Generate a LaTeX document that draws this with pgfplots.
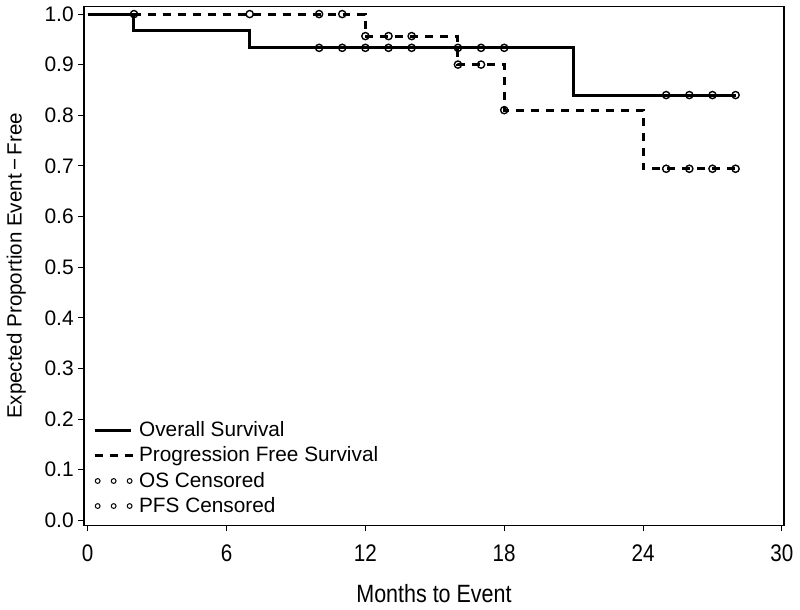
\documentclass[border=0pt]{standalone}
\usepackage{fontspec}
\setmainfont{Liberation Sans}
\newfontfamily\narrow[FakeStretch=0.86]{Liberation Sans}
\usepackage{pgfplots}
\pgfplotsset{compat=1.18}
\begin{document}
\begin{tikzpicture}
\begin{axis}[
  scale only axis, width=350.5pt, height=259.7pt,
  xmin=-0.17, xmax=30.1, ymin=-0.0103, ymax=1.015,
  xtick={0,6,12,18,24,30}, xticklabels={0,6,12,18,24,30},
  ytick={0,0.1,0.2,0.3,0.4,0.5,0.6,0.7,0.8,0.9,1.0},
  yticklabels={0.0,0.1,0.2,0.3,0.4,0.5,0.6,0.7,0.8,0.9,1.0},
  xticklabel style={font=\narrow\fontsize{12}{14}\selectfont, yshift=-3pt},
  yticklabel style={font=\fontsize{10.5}{12}\selectfont, xshift=1.5pt},
  tick align=outside, major tick length=3pt, xtick pos=bottom, ytick pos=left,
  tick style={black, line width=0.5pt},
  axis line style={line width=0.9pt},
  xlabel={Months to Event},
  ylabel={Expected Proportion Event\,−\,Free},
  xlabel style={font=\narrow\fontsize{12.5}{14}\selectfont, yshift=-4.5pt},
  ylabel style={font=\fontsize{10.3}{12}\selectfont, yshift=2.5pt},
  legend cell align=left,
  legend style={draw=none, fill=none, at={(0,0)}, anchor=south west, xshift=2.5pt, yshift=1pt,
    font=\fontsize{10.4}{12}\selectfont, row sep=-0.5pt, inner xsep=2pt, inner ysep=2pt,
    nodes={inner xsep=2.5pt}},
]
\addplot[black, line width=1.5pt, const plot mark left,
  legend image code/.code={\draw[black, line width=1.5pt] (0pt,0pt) -- (18pt,0pt);}]
  coordinates {(0,1) (2,0.9667) (7,0.9333) (21,0.84) (28,0.84)};
\addlegendentry{Overall Survival}
\addplot[black, line width=1.5pt, dash pattern=on 4pt off 3.5pt, const plot mark left,
  legend image code/.code={\draw[black, line width=1.5pt, dash pattern=on 4pt off 3.5pt] (0pt,0pt) -- (19pt,0pt);}]
  coordinates {(0,1) (12,0.9565) (16,0.9002) (18,0.8102) (24,0.6944) (28,0.6944)};
\addlegendentry{Progression Free Survival}
\addplot[only marks, mark=o, mark size=1.8pt, black, mark options={line width=0.7pt},
  legend image code/.code={\draw[black, line width=0.5pt] (1.5pt,0pt) circle (1.2pt) (9.5pt,0pt) circle (1.2pt) (17.5pt,0pt) circle (1.2pt);}]
  coordinates {(10,0.9333) (11,0.9333) (12,0.9333) (13,0.9333) (14,0.9333) (16,0.9333) (17,0.9333) (18,0.9333)
    (25,0.84) (26,0.84) (27,0.84) (28,0.84)};
\addlegendentry{OS Censored}
\addplot[only marks, mark=o, mark size=1.8pt, black, mark options={line width=0.7pt},
  legend image code/.code={\draw[black, line width=0.5pt] (1.5pt,0pt) circle (1.2pt) (9.5pt,0pt) circle (1.2pt) (17.5pt,0pt) circle (1.2pt);}]
  coordinates {(2,1) (7,1) (10,1) (11,1) (12,0.9565) (13,0.9565) (14,0.9565) (16,0.9002) (17,0.9002) (18,0.8102)
    (25,0.6944) (26,0.6944) (27,0.6944) (28,0.6944)};
\addlegendentry{PFS Censored}
\end{axis}
\end{tikzpicture}
\end{document}
